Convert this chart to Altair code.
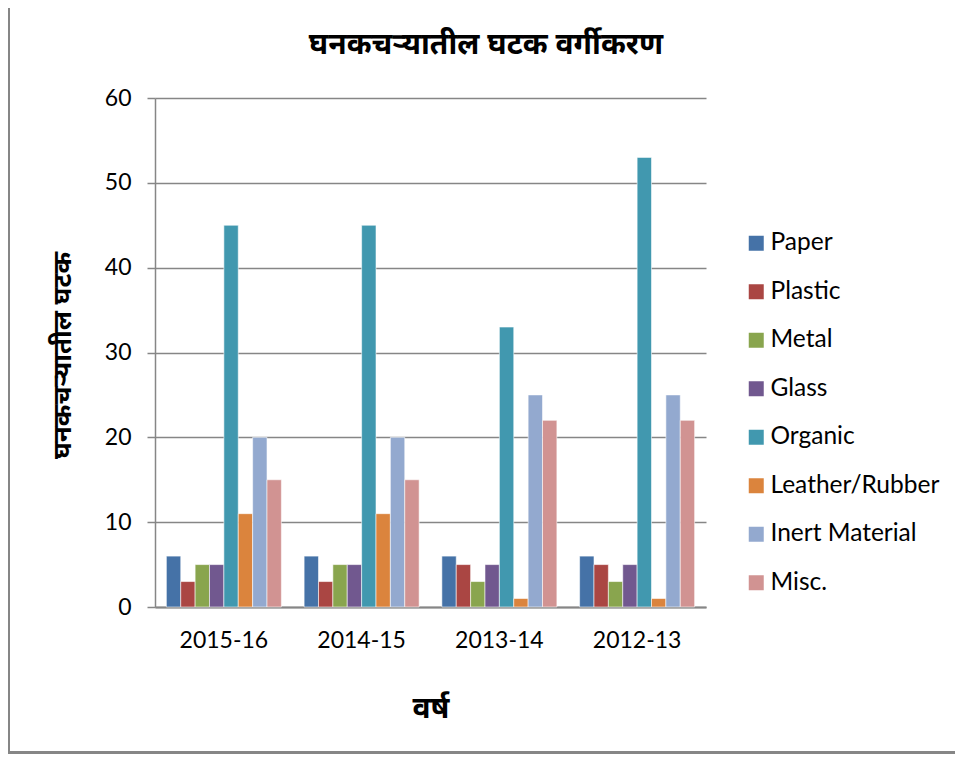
import altair as alt
import pandas as pd

years = ["2015-16", "2014-15", "2013-14", "2012-13"]
series = ["Paper", "Plastic", "Metal", "Glass", "Organic",
          "Leather/Rubber", "Inert Material", "Misc."]
colors = ["#4572A7", "#AA4643", "#89A54E", "#71588F", "#4198AF",
          "#DB843D", "#93A9CF", "#D19392"]

paper = [6, 6, 6, 6]
plastic = [3, 3, 5, 5]
metal = [5, 5, 3, 3]
glass = [5, 5, 5, 5]
organic = [45, 45, 33, 53]
leather = [11, 11, 1, 1]
inert = [20, 20, 25, 25]
misc = [15, 15, 22, 22]

title_text = "घनकचऱ्यातील घटक वर्गीकरण"
y_title = "घनकचऱ्यातील घटक"
x_title = "वर्ष"

values = [paper, plastic, metal, glass, organic, leather, inert, misc]
rows = []
for s, vals in zip(series, values):
    for yr, v in zip(years, vals):
        rows.append({"year": yr, "type": s, "value": v})
df = pd.DataFrame(rows)

DEV = "Noto Sans Devanagari, Lohit Devanagari, Mangal, sans-serif"
LAT = "Lato"
GRAY = "#868686"

bars = alt.Chart(df).mark_bar(stroke="white", strokeWidth=0.8, strokeOpacity=0.7).encode(
    x=alt.X("year:N", sort=years,
            scale=alt.Scale(paddingInner=0.165, paddingOuter=0.0825),
            axis=alt.Axis(title=x_title, labelAngle=0, labelFont=LAT, labelFontSize=23,
                          labelColor="black", labelPadding=22, ticks=False,
                          domainColor=GRAY, domainWidth=2,
                          titleFont=DEV, titleFontSize=30, titleFontWeight="bold",
                          titleColor="black", titleY=101, titleBaseline="middle")),
    xOffset=alt.XOffset("type:N", sort=series, scale=alt.Scale(paddingInner=0, paddingOuter=0)),
    y=alt.Y("value:Q", scale=alt.Scale(domain=[0, 60], nice=False),
            axis=alt.Axis(title=y_title, values=[0, 10, 20, 30, 40, 50, 60],
                          labelFont=LAT, labelFontSize=23, labelColor="black",
                          labelPadding=16, tickSize=8, tickColor=GRAY, tickWidth=1.5,
                          domainColor=GRAY, domainWidth=1.5,
                          grid=True, gridColor=GRAY, gridWidth=1.5,
                          titleFont=DEV, titleFontSize=26, titleFontWeight="bold",
                          titleColor="black", titleX=-93, titleY=257,
                          titleAlign="center", titleBaseline="middle")),
    color=alt.Color("type:N", sort=series,
                    scale=alt.Scale(domain=series, range=colors),
                    legend=alt.Legend(title=None, orient="none", legendX=589, legendY=133,
                                      symbolType="square", symbolSize=225,
                                      symbolStrokeWidth=0, labelFont=LAT,
                                      labelFontSize=24.5, labelColor="black",
                                      labelLimit=400,
                                      labelOffset=2, rowPadding=23.5)),
)

frame = alt.Chart(pd.DataFrame({"a": [0]})).mark_rect(
    fill=None, stroke=GRAY, strokeWidth=3
).encode(
    x=alt.value(-146.5), x2=alt.value(830), y=alt.value(-300), y2=alt.value(654.5)
)

title = alt.Chart(pd.DataFrame({"t": [title_text]})).mark_text(
    font=DEV, fontSize=30, fontWeight="bold", color="black",
    align="center", baseline="middle"
).encode(text="t:N", x=alt.value(331), y=alt.value(-53))

chart = alt.layer(frame, bars, title).properties(
    width=551, height=509,
    padding={"left": 147, "top": 90, "right": 249, "bottom": 147},
    autosize=alt.AutoSizeParams(type="none"),
).configure_view(stroke=None)

chart.save("out.html", embed_options={"renderer": "svg", "actions": False})
